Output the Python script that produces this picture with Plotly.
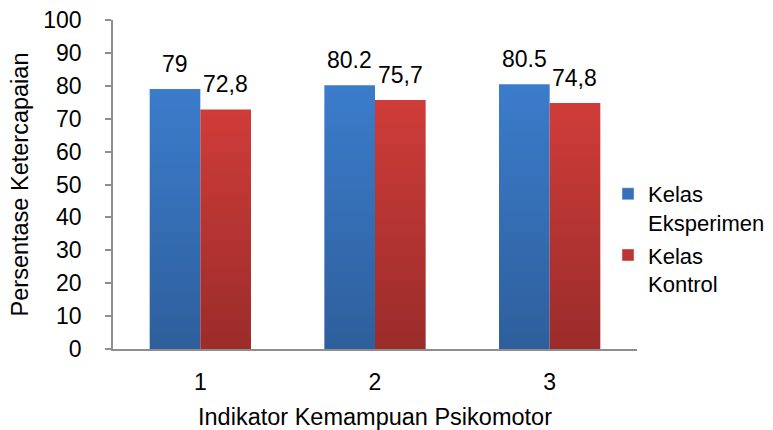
import plotly.graph_objects as go

# Data
indicators = [1, 2, 3]
tick_labels = ["1", "2", "3"]
eksperimen = [79, 80.2, 80.5]
kontrol = [72.8, 75.7, 74.8]
label_eksperimen = ["79", "80.2", "80.5"]
label_kontrol = ["72,8", "75,7", "74,8"]
series_names = ["Kelas<br>Eksperimen", "Kelas<br>Kontrol"]

# Gradient colours (bottom -> top) and legend colours
blue_grad = ["#2E5F9C", "#3B7CCB"]
red_grad = ["#9A2C2A", "#CF3C39"]
legend_colors = ["#3570B8", "#BC3532"]

FONT = "Liberation Sans, Arial, sans-serif"
half = 0.29  # width of one bar in category units

fig = go.Figure()

series = [
    (eksperimen, label_eksperimen, blue_grad, -1),
    (kontrol, label_kontrol, red_grad, 0),
]

annotations = []
for values, labels, grad, side in series:
    for xc, v, lab in zip(indicators, values, labels):
        x0 = xc + side * half
        x1 = x0 + half
        fig.add_trace(go.Scatter(
            x=[x0, x1, x1, x0, x0],
            y=[0, 0, v, v, 0],
            mode="none",
            fill="toself",
            fillgradient=dict(
                type="vertical",
                colorscale=[[0, grad[0]], [1, grad[1]]],
                start=0,
                stop=v,
            ),
            showlegend=False,
            hoverinfo="skip",
        ))
        annotations.append(dict(
            x=(x0 + x1) / 2, y=v, xref="x", yref="y",
            text=lab, showarrow=False, yanchor="bottom", yshift=10,
            font=dict(family=FONT, size=23, color="#000000"),
        ))

# Legend entries
for i, (name, col) in enumerate(zip(series_names, legend_colors)):
    fig.add_trace(go.Bar(
        x=[None], y=[None], name=name, marker=dict(color=col),
        legendgroup=f"g{i}",
    ))

axis_gray = "#8E8E8E"

fig.update_layout(
    width=773, height=430,
    margin=dict(l=113, r=136, t=20, b=81, autoexpand=False),
    paper_bgcolor="white", plot_bgcolor="white",
    font=dict(family=FONT, size=23, color="#000000"),
    showlegend=True,
    legend=dict(
        x=0.9447, xanchor="left", y=0.535, yanchor="top",
        valign="top", tracegroupgap=1,
        font=dict(family=FONT, size=22, color="#000000"),
        bgcolor="rgba(0,0,0,0)",
    ),
    xaxis=dict(
        range=[0.5, 3.5], tickvals=indicators, ticktext=tick_labels,
        ticks="", showline=True, linecolor=axis_gray, linewidth=1.5,
        showgrid=False, zeroline=False, fixedrange=True, automargin=False,
        ticklabelstandoff=12,
        tickfont=dict(family=FONT, size=23),
        title=dict(text="Indikator Kemampuan Psikomotor", standoff=14,
                   font=dict(family=FONT, size=23.5)),
    ),
    xaxis2=dict(
        overlaying="x", anchor="y", side="bottom",
        range=[0.5, 3.5], tickvals=[0.5, 1.5, 2.5, 3.5],
        ticks="outside", ticklen=6, tickcolor=axis_gray, tickwidth=1.5,
        showticklabels=False, showline=False, showgrid=False, zeroline=False,
        automargin=False,
    ),
    yaxis=dict(
        range=[0, 100], dtick=10, tick0=0,
        ticks="outside", ticklen=6, tickcolor=axis_gray, tickwidth=1.5,
        showline=True, linecolor=axis_gray, linewidth=1.5,
        showgrid=False, zeroline=False, automargin=False,
        ticklabelstandoff=19,
        tickfont=dict(family=FONT, size=23),
        title=dict(text="Persentase Ketercapaian", standoff=8,
                   font=dict(family=FONT, size=23.5)),
    ),
    annotations=annotations,
)

fig.write_html("out.html")
